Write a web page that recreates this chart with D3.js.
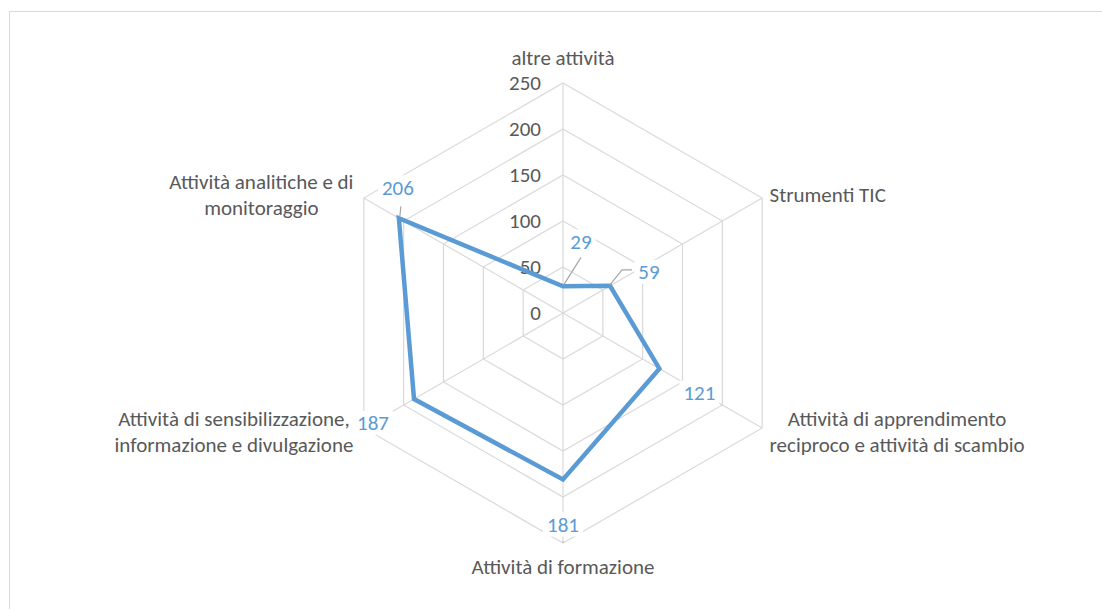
<!DOCTYPE html>
<html>
<head>
<meta charset="utf-8">
<script src="https://cdn.jsdelivr.net/npm/d3@7"></script>
<style>
  body { margin: 0; background: #fff; }
  text { font-family: Carlito, Calibri, Lato, sans-serif; }
</style>
</head>
<body>
<svg id="chart" width="1102" height="609"></svg>
<script>
(function() {

  var width = 1102, height = 609;
  var cx = 563, cy = 313, radius = 230;
  var fs = 21;

  // data
  var categories = [
    "altre attività",
    "Strumenti TIC",
    "Attività di apprendimento|reciproco e attività di scambio",
    "Attività di formazione",
    "Attività di sensibilizzazione,|informazione e divulgazione",
    "Attività analitiche e di|monitoraggio"
  ];
  var values = [29, 59, 121, 181, 187, 206];
  var ticks = [0, 50, 100, 150, 200, 250];

  // where each value label sits relative to its point (layout only)
  var labelOffsets = [[18, -45], [39, -14], [40, 24], [0, 45], [-41, 24], [-1, -31]];

  var svg = d3.select("#chart");

  svg.append("rect")
    .attr("x", 9.5).attr("y", 11.5)
    .attr("width", width).attr("height", height)
    .attr("fill", "none")
    .attr("stroke", "#d9d9d9");

  var g = svg.append("g")
    .attr("transform", "translate(" + cx + "," + cy + ")");

  var r = d3.scaleLinear().domain([0, 250]).range([0, radius]);
  var angle = d3.scaleLinear().domain([0, categories.length]).range([0, 2 * Math.PI]);

  function pt(i, v) {
    var a = angle(i);
    return [r(v) * Math.sin(a), -r(v) * Math.cos(a)];
  }

  // grid rings
  var ring = d3.lineRadial()
    .angle(function(d, i) { return angle(i) })
    .curve(d3.curveLinearClosed);

  g.selectAll(".ring")
    .data(ticks.slice(1))
    .enter()
    .append("path")
    .attr("class", "ring")
    .attr("d", function(t) {
      return ring.radius(r(t))(categories.map(function() { return 0 }))
    })
    .attr("fill", "none")
    .attr("stroke", "#d9d9d9")
    .attr("stroke-width", 1.2);

  // spokes
  g.selectAll(".spoke")
    .data(categories)
    .enter()
    .append("line")
    .attr("class", "spoke")
    .attr("x1", 0).attr("y1", 0)
    .attr("x2", function(d, i) { return pt(i, 250)[0] })
    .attr("y2", function(d, i) { return pt(i, 250)[1] })
    .attr("stroke", "#d9d9d9")
    .attr("stroke-width", 1.2);

  // tick labels
  g.selectAll(".tick")
    .data(ticks)
    .enter()
    .append("text")
    .attr("class", "tick")
    .attr("x", -22)
    .attr("y", function(t) { return -r(t) })
    .attr("dy", "0.35em")
    .attr("text-anchor", "end")
    .attr("font-size", fs)
    .attr("fill", "#595959")
    .text(function(t) { return t });

  // series line
  var series = d3.lineRadial()
    .angle(function(d, i) { return angle(i) })
    .radius(function(d) { return r(d) })
    .curve(d3.curveLinearClosed);

  g.append("path")
    .datum(values)
    .attr("d", series)
    .attr("fill", "none")
    .attr("stroke", "#5b9bd5")
    .attr("stroke-width", 4.5)
    .attr("stroke-linejoin", "miter");

  // leader lines
  var leaders = [
    [[1, -2], [18, -29]],
    [[0, -1], [12, -16], [22, -16]],
    [[1, -2], [2, -12]],
    [[0, 62], [0, 63]]
  ];
  var leaderIdx = [0, 1, 5, 3];
  leaderIdx.forEach(function(i, k) {
    var p = pt(i, values[i]);
    g.append("path")
      .attr("d", d3.line()(leaders[k].map(function(o) { return [p[0] + o[0], p[1] + o[1]] })))
      .attr("fill", "none")
      .attr("stroke", "#a6a6a6")
      .attr("stroke-width", 1.2);
  });

  // value labels
  var vl = g.selectAll(".vlabel")
    .data(values)
    .enter()
    .append("g")
    .attr("class", "vlabel")
    .attr("transform", function(d, i) {
      var p = pt(i, d);
      return "translate(" + (p[0] + labelOffsets[i][0]) + "," + (p[1] + labelOffsets[i][1]) + ")"
    });

  vl.append("rect")
    .attr("y", -12)
    .attr("height", 24)
    .attr("fill", "#fff");

  vl.append("text")
    .attr("text-anchor", "middle")
    .attr("dy", "0.35em")
    .attr("font-size", fs)
    .attr("fill", "#5b9bd5")
    .text(function(d) { return d })
    .each(function() {
      var w = this.getComputedTextLength();
      d3.select(this.parentNode).select("rect")
        .attr("x", -w / 2 - 4)
        .attr("width", w + 8);
    });

  // category labels
  var lineH = 26;
  categories.forEach(function(c, i) {
    var lines = c.split("|");
    var p = pt(i, 258);
    var side = Math.abs(p[0]) < 1 ? 0 : (p[0] > 0 ? 1 : -1);
    var t = g.append("text")
      .attr("text-anchor", "middle")
      .attr("font-size", fs)
      .attr("fill", "#595959");
    lines.forEach(function(l, j) {
      t.append("tspan")
        .attr("x", 0)
        .attr("y", (j - (lines.length - 1) / 2) * lineH)
        .attr("dy", "0.35em")
        .text(l);
    });
    var w = d3.max(t.selectAll("tspan").nodes(), function(n) { return n.getComputedTextLength() });
    var x, y;
    if (side === 0) {
      x = 0;
      y = i === 0 ? -255 : 254;
    } else {
      x = p[0] + side * (w / 2 + (side < 0 ? 4 : 1));
      y = p[1];
    }
    t.attr("transform", "translate(" + x + "," + y + ")");
  });

})();
</script>
</body>
</html>
